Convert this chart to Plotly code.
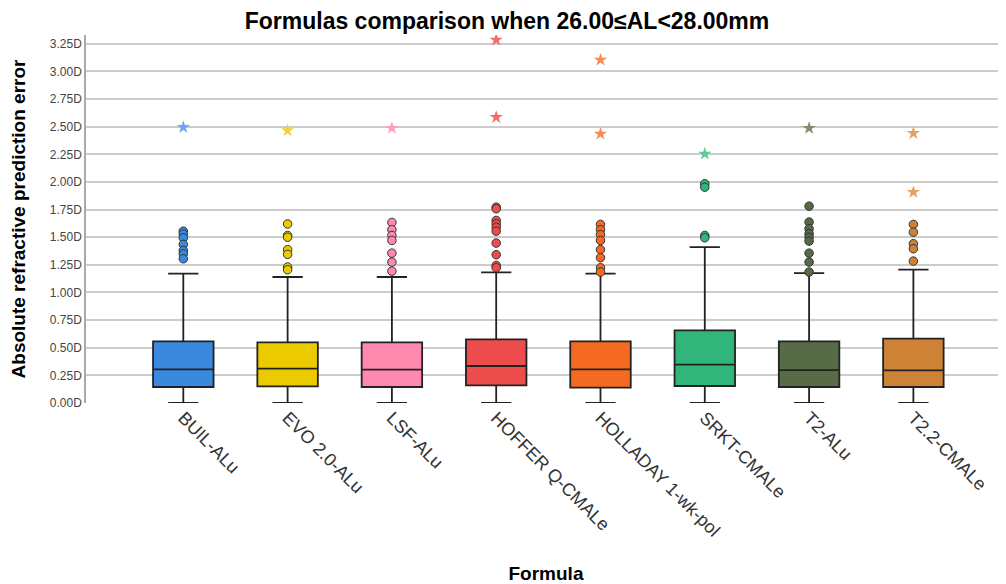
import plotly.graph_objects as go

categories = ["BUIL-ALu", "EVO 2.0-ALu", "LSF-ALu", "HOFFER Q-CMALe",
              "HOLLADAY 1-wk-pol", "SRKT-CMALe", "T2-ALu", "T2.2-CMALe"]
lower_whisker = [0.0, 0.0, 0.0, 0.0, 0.0, 0.0, 0.0, 0.0]
q1 = [0.145, 0.151, 0.145, 0.160, 0.139, 0.154, 0.145, 0.145]
median = [0.305, 0.311, 0.302, 0.335, 0.305, 0.347, 0.298, 0.296]
q3 = [0.558, 0.549, 0.549, 0.576, 0.558, 0.657, 0.558, 0.582]
upper_whisker = [1.17, 1.14, 1.14, 1.182, 1.17, 1.411, 1.176, 1.206]
outliers = [
    [1.555, 1.53, 1.495, 1.435, 1.38, 1.35, 1.305],
    [1.62, 1.516, 1.50, 1.387, 1.345, 1.23, 1.206],
    [1.634, 1.568, 1.516, 1.471, 1.356, 1.275, 1.193],
    [1.772, 1.758, 1.652, 1.622, 1.591, 1.555, 1.447, 1.342, 1.245, 1.224],
    [1.616, 1.568, 1.523, 1.471, 1.387, 1.315, 1.224, 1.185],
    [1.984, 1.953, 1.516, 1.495],
    [1.781, 1.637, 1.577, 1.532, 1.50, 1.465, 1.356, 1.275, 1.185],
    [1.616, 1.546, 1.441, 1.396, 1.284],
]
extremes = [
    [2.495], [2.466], [2.487], [3.286, 2.586], [3.105, 2.436],
    [2.255], [2.487], [2.441, 1.908],
]
y_tick_values = [i * 0.25 for i in range(14)]
y_tick_labels = [f"{v:.2f}D" for v in y_tick_values]

colors = ["#3A89DE", "#EBCB00", "#FF88AE", "#EE4D4D",
          "#F56A22", "#30B67A", "#566B46", "#CE8236"]
star_colors = ["#6FA8EE", "#F0D23A", "#FF9CC0", "#F26E6E",
               "#F88A55", "#5CCB96", "#7E8F6E", "#E2A266"]

fig = go.Figure()
for i, cat in enumerate(categories):
    fig.add_trace(go.Box(
        x=[cat], q1=[q1[i]], median=[median[i]], q3=[q3[i]],
        lowerfence=[lower_whisker[i]], upperfence=[upper_whisker[i]],
        fillcolor=colors[i], line=dict(color="#222222", width=1.8),
        width=0.58, whiskerwidth=0.5, boxpoints=False, showlegend=False,
        hoverinfo="skip",
    ))
    fig.add_trace(go.Scatter(
        x=[cat] * len(outliers[i]), y=outliers[i], mode="markers",
        marker=dict(symbol="circle", size=8.5, color=colors[i],
                    line=dict(color="#333333", width=1)),
        showlegend=False,
    ))
    fig.add_trace(go.Scatter(
        x=[cat] * len(extremes[i]), y=extremes[i], mode="markers",
        marker=dict(symbol="star", size=10, color=star_colors[i],
                    line=dict(width=0)),
        showlegend=False,
    ))

fig.update_layout(
    width=998, height=576,
    margin=dict(l=78, r=0, t=27, b=181),
    paper_bgcolor="white", plot_bgcolor="white",
    font=dict(family="Liberation Sans, Arial, sans-serif", color="#333333"),
    title=dict(text="<b>Formulas comparison when 26.00≤AL<28.00mm</b>",
               x=0.5, xanchor="center", y=1 - 13 / 576, yanchor="middle",
               font=dict(size=23, color="#000000")),
    showlegend=False,
)
fig.update_xaxes(
    type="category", categoryorder="array", categoryarray=categories,
    range=[-0.933, 7.888], tickangle=45, showgrid=False, zeroline=False,
    showline=False, ticks="", tickfont=dict(size=18, color="#333333"),
    automargin=False,
    title=dict(text="<b>Formula</b>", font=dict(size=19, color="#000000"),
               standoff=36),
)
fig.update_yaxes(
    range=[0, 3.33], tickmode="array", tickvals=y_tick_values,
    ticktext=y_tick_labels, showgrid=True, gridcolor="#CCCCCC",
    gridwidth=1.5, zeroline=False, showline=True, linecolor="#AAAAAA",
    linewidth=1.5, ticks="", tickfont=dict(size=12, color="#444444"),
    automargin=False,
    title=dict(text="<b>Absolute refractive prediction error</b>",
               font=dict(size=19, color="#000000"), standoff=22),
)

fig.write_html("out.html")
